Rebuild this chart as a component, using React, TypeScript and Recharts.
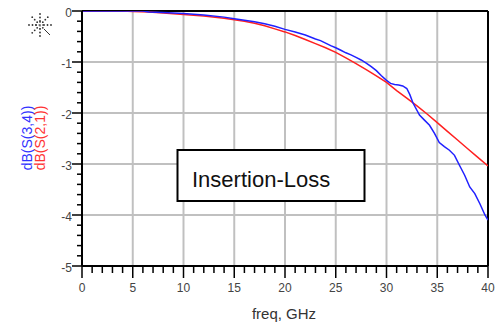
import React from 'react';
import { LineChart, Line, XAxis, YAxis, ReferenceLine } from 'recharts';

const redFreq = [0, 4, 5, 6.6, 8, 10, 12, 14, 15, 16, 17, 18, 19, 20, 21, 22, 23, 24, 25, 26, 27, 28, 29, 30, 31, 32, 33, 34, 35, 36, 37, 38, 39, 40];
const redDb = [0, 0, -0.01, -0.02, -0.04, -0.07, -0.1, -0.14, -0.17, -0.2, -0.24, -0.29, -0.35, -0.41, -0.48, -0.56, -0.64, -0.72, -0.81, -0.92, -1.03, -1.15, -1.27, -1.4, -1.56, -1.71, -1.86, -2.02, -2.19, -2.36, -2.53, -2.7, -2.87, -3.04];

const blueFreq = [0, 3, 6, 6.6, 8, 10, 12, 14, 15, 16, 17, 18, 19, 20, 21, 22, 23, 23.5, 24, 24.5, 25, 25.5, 26, 26.5, 27, 27.5, 28, 28.5, 29, 29.5, 30, 30.4, 30.8, 31.2, 31.6, 32, 32.3, 32.6, 33.25, 33.74, 34.24, 34.73, 35.2, 35.7, 36.2, 36.7, 37.2, 37.7, 38.2, 38.7, 39.2, 39.7, 40];
const blueDb = [0, 0, 0, -0.02, -0.03, -0.05, -0.08, -0.12, -0.15, -0.18, -0.21, -0.25, -0.3, -0.36, -0.41, -0.47, -0.55, -0.58, -0.63, -0.68, -0.72, -0.77, -0.82, -0.86, -0.91, -0.96, -1.02, -1.09, -1.17, -1.27, -1.36, -1.42, -1.44, -1.45, -1.47, -1.52, -1.64, -1.8, -2.04, -2.14, -2.24, -2.4, -2.58, -2.66, -2.73, -2.83, -3.03, -3.22, -3.45, -3.58, -3.78, -4.0, -4.1];

const xTicks = [0, 1, 2, 3, 4, 5, 6, 7, 8, 9, 10, 11, 12, 13, 14, 15, 16, 17, 18, 19, 20, 21, 22, 23, 24, 25, 26, 27, 28, 29, 30, 31, 32, 33, 34, 35, 36, 37, 38, 39, 40];
const yTicks = [-5, -4.8, -4.6, -4.4, -4.2, -4, -3.8, -3.6, -3.4, -3.2, -3, -2.8, -2.6, -2.4, -2.2, -2, -1.8, -1.6, -1.4, -1.2, -1, -0.8, -0.6, -0.4, -0.2, 0];
const xGrid = [5, 10, 15, 20, 25, 30, 35];
const yGrid = [-1, -2, -3, -4];

const redData = redFreq.map((f, i) => ({ f, v: redDb[i] }));
const blueData = blueFreq.map((f, i) => ({ f, v: blueDb[i] }));

const FONT = 'Liberation Sans, Arial, sans-serif';

const XTick = (props: any) => {
  const { x, y, payload } = props;
  const v = payload.value;
  const major = v % 5 === 0;
  return (
    <g>
      <line x1={x} x2={x} y1={y} y2={y + (major ? 12 : 7)} stroke="#000" strokeWidth={1.5} />
      {major && (
        <text x={x} y={y + 26} textAnchor="middle" fontSize={12} fill="#444" fontFamily={FONT}>
          {v}
        </text>
      )}
    </g>
  );
};

const YTick = (props: any) => {
  const { x, y, payload } = props;
  const v = payload.value;
  const major = Math.abs(v - Math.round(v)) < 1e-6;
  return (
    <g>
      <line x1={x - (major ? 10 : 5)} x2={x} y1={y} y2={y} stroke="#000" strokeWidth={1.5} />
      {major && (
        <text x={x - 10} y={y + 6} textAnchor="end" fontSize={12} fill="#444" fontFamily={FONT}>
          {Math.round(v)}
        </text>
      )}
    </g>
  );
};

const Icon = () => {
  const dirs = [0, 45, 90, 135, 180, 225, 270, 315];
  const dots: any[] = [];
  dirs.forEach((d) => {
    const r = (d * Math.PI) / 180;
    [4, 7.5, 11].forEach((rad, k) => {
      if (d === 45 && k > 0) return;
      dots.push(<circle key={d + '-' + k} cx={40 + rad * Math.cos(r)} cy={25 + rad * Math.sin(r)} r={0.9} fill="#333" />);
    });
  });
  return (
    <g>
      {dots}
      <line x1={44} y1={29} x2={50} y2={35} stroke="#333" strokeWidth={1} />
      <line x1={35} y1={25} x2={45} y2={25} stroke="#333" strokeWidth={1} strokeDasharray="2 1.5" />
      <line x1={40} y1={21} x2={40} y2={29} stroke="#333" strokeWidth={1} strokeDasharray="2 1.5" />
    </g>
  );
};

export default function App() {
  return (
    <div style={{ position: 'absolute', left: 0, top: 0, width: 504, height: 325, background: '#fff' }}>
      <LineChart width={504} height={325} margin={{ top: 11, right: 16, bottom: 0, left: 0 }}>
        <XAxis
          dataKey="f"
          type="number"
          domain={[0, 40]}
          ticks={xTicks}
          interval={0}
          tick={<XTick />}
          tickLine={false}
          tickSize={0}
          tickMargin={0}
          height={59}
          axisLine={{ stroke: '#000', strokeWidth: 2 }}
          allowDataOverflow
        />
        <YAxis
          dataKey="v"
          type="number"
          domain={[-5, 0]}
          ticks={yTicks}
          interval={0}
          tick={<YTick />}
          tickLine={false}
          tickSize={0}
          tickMargin={0}
          width={82}
          axisLine={{ stroke: '#000', strokeWidth: 2 }}
          allowDataOverflow
        />
        {xGrid.map((g) => (
          <ReferenceLine key={'x' + g} x={g} stroke="#c0c0c0" strokeWidth={2} />
        ))}
        {yGrid.map((g) => (
          <ReferenceLine key={'y' + g} y={g} stroke="#c0c0c0" strokeWidth={2} />
        ))}
        <ReferenceLine y={0} stroke="#000" strokeWidth={2} />
        <ReferenceLine x={40} stroke="#000" strokeWidth={2} />
        <Line data={redData} dataKey="v" type="linear" stroke="#ff2020" strokeWidth={1.5} dot={false} isAnimationActive={false} />
        <Line data={blueData} dataKey="v" type="linear" stroke="#2020ff" strokeWidth={1.5} dot={false} isAnimationActive={false} />
      </LineChart>
      <svg width={504} height={325} style={{ position: 'absolute', left: 0, top: 0, pointerEvents: 'none' }}>
        <Icon />
        <rect x={177.5} y={150} width={187} height={51} fill="#fff" stroke="#000" strokeWidth={2} />
        <text x={192} y={187} fontSize={22} fill="#111" fontFamily={FONT}>Insertion-Loss</text>
        <text x={284} y={319} fontSize={15} fill="#333" textAnchor="middle" fontFamily={FONT}>freq, GHz</text>
        <text transform="translate(32,138) rotate(-90)" fontSize={14} fill="#3333ff" textAnchor="middle" fontFamily={FONT}>dB(S(3,4))</text>
        <text transform="translate(45,138) rotate(-90)" fontSize={14} fill="#ff3333" textAnchor="middle" fontFamily={FONT}>dB(S(2,1))</text>
      </svg>
    </div>
  );
}
